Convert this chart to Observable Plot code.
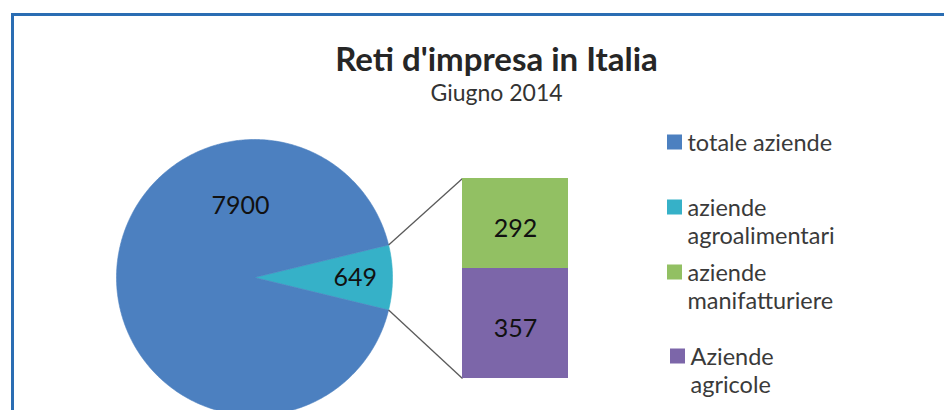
<!DOCTYPE html>
<html><head><meta charset="utf-8">
<script src="https://cdn.jsdelivr.net/npm/d3@7"></script>
<script src="https://cdn.jsdelivr.net/npm/@observablehq/plot@0.6"></script>
<style>
html,body{margin:0;padding:0;background:#fff;}
#wrap{position:relative;width:944px;height:410px;overflow:hidden;font-family:Lato,sans-serif;}
#wrap svg{position:absolute;left:0;top:0;background:none;}
#frame{position:absolute;left:11px;top:13px;width:960px;height:420px;border-left:3px solid #2a6db3;border-top:3px solid #2a6db3;}
</style></head><body><div id="wrap"><div id="frame"></div></div>
<script>
// ---- data ----
const chartTitle = "Reti d'impresa in Italia";
const chartSubtitle = "Giugno 2014";
const pieNames = ["aziende agroalimentari", "totale aziende"];
const pieValues = [649, 7900];
const pieColors = ["#36b1c8", "#4c80c0"];
const barNames = ["Aziende agricole", "aziende manifatturiere"];
const barValues = [357, 292];
const barColors = ["#7c66a9", "#92c063"];
const legendLabels = ["totale aziende", "aziende\nagroalimentari", "aziende\nmanifatturiere", "Aziende\nagricole"];
const legendColors = ["#4c80c0", "#36b1c8", "#92c063", "#7c66a9"];

// ---- layout ----
const W = 944, H = 410;
const cx = 254, cy = 277, R = 138;
const barX0 = 462, barX1 = 568, barTop = 178, barBottom = 378;
const legendSwatchX = [667, 667, 667, 670];
const legendLineY = [142, 207, 272, 356];
const swatch = 15;
const legendFont = 23.5;

const teal = 2 * Math.PI * pieValues[0] / d3.sum(pieValues);
const start = Math.PI / 2 - teal / 2;
const arcs = d3.pie().sort(null).startAngle(start).endAngle(start + 2 * Math.PI)(pieValues);
const px = (a, r) => cx + r * Math.sin(a);
const py = (a, r) => cy - r * Math.cos(a);

const piePts = [];
arcs.forEach((a, i) => {
  piePts.push({key: pieNames[i], fill: pieColors[i], x: cx, y: cy});
  const n = Math.max(8, Math.ceil((a.endAngle - a.startAngle) / 0.01));
  for (let j = 0; j <= n; j++) {
    const t = a.startAngle + (a.endAngle - a.startAngle) * j / n;
    piePts.push({key: pieNames[i], fill: pieColors[i], x: px(t, R), y: py(t, R)});
  }
  piePts.push({key: pieNames[i], fill: pieColors[i], x: cx, y: cy});
});

// label placement (angle, fraction of radius)
const labelPlace = [
  {angle: (arcs[0].startAngle + arcs[0].endAngle) / 2, k: 0.73},
  {angle: -11 * Math.PI / 180, k: 0.53}
];
const pieText = arcs.map((a, i) => ({
  text: String(pieValues[i]),
  x: px(labelPlace[i].angle, labelPlace[i].k * R),
  y: py(labelPlace[i].angle, labelPlace[i].k * R)
}));

const links = [
  {x1: px(arcs[0].startAngle, R), y1: py(arcs[0].startAngle, R), x2: barX0, y2: barTop},
  {x1: px(arcs[0].endAngle, R), y1: py(arcs[0].endAngle, R), x2: barX0, y2: barBottom}
];

const legend = legendLabels.map((t, i) => ({
  text: t, fill: legendColors[i],
  x1: legendSwatchX[i], x2: legendSwatchX[i] + swatch,
  y1: legendLineY[i] - swatch / 2, y2: legendLineY[i] + swatch / 2,
  tx: legendSwatchX[i] + swatch + 5, ty: legendLineY[i] - 0.52 * legendFont
}));

const base = Plot.plot({
  width: W, height: H, margin: 0,
  style: {background: "none", fontFamily: "Lato, sans-serif"},
  x: {domain: [0, W], range: [0, W], axis: null},
  y: {domain: [0, H], range: [0, H], axis: null},
  color: {type: "identity"},
  marks: [
    Plot.line(piePts, {x: "x", y: "y", z: "key", fill: "fill", stroke: "fill", strokeWidth: 0.6, curve: "linear"}),
    Plot.link(links, {x1: "x1", y1: "y1", x2: "x2", y2: "y2", stroke: "#5a5a5a", strokeWidth: 1.3}),
    Plot.text(pieText, {x: "x", y: "y", text: "text", fontSize: 25, fill: "#111"}),
    Plot.text([chartTitle], {x: 496, y: 60, text: d => d, fontSize: 33, fontWeight: "bold", fill: "#262626"}),
    Plot.text([chartSubtitle], {x: 496, y: 93, text: d => d, fontSize: 23, fill: "#333"}),
    Plot.rect(legend, {x1: "x1", x2: "x2", y1: "y1", y2: "y2", fill: "fill"}),
    Plot.text(legend, {x: "tx", y: "ty", text: "text", textAnchor: "start", lineAnchor: "top", lineHeight: 1.22, fontSize: legendFont, fill: "#3a3a3a"})
  ]
});

let acc = 0;
const barData = barValues.map((v, i) => {
  const d = {name: barNames[i], value: v, fill: barColors[i], mid: acc + v / 2};
  acc += v;
  return d;
});

const bar = Plot.plot({
  width: W, height: H,
  marginLeft: barX0, marginRight: W - barX1, marginTop: barTop, marginBottom: H - barBottom,
  style: {background: "none", fontFamily: "Lato, sans-serif"},
  x: {axis: null, padding: 0},
  y: {axis: null, domain: [0, d3.sum(barValues)]},
  color: {type: "identity"},
  marks: [
    Plot.barY(barData, {x: () => "bar", y: "value", fill: "fill", inset: 0}),
    Plot.text(barData, {x: () => "bar", y: "mid", text: d => String(d.value), fontSize: 25, dy: 6, fill: "#111"})
  ]
});

const wrap = document.getElementById("wrap");
wrap.insertBefore(base, wrap.firstChild);
wrap.appendChild(bar);
</script></body></html>
